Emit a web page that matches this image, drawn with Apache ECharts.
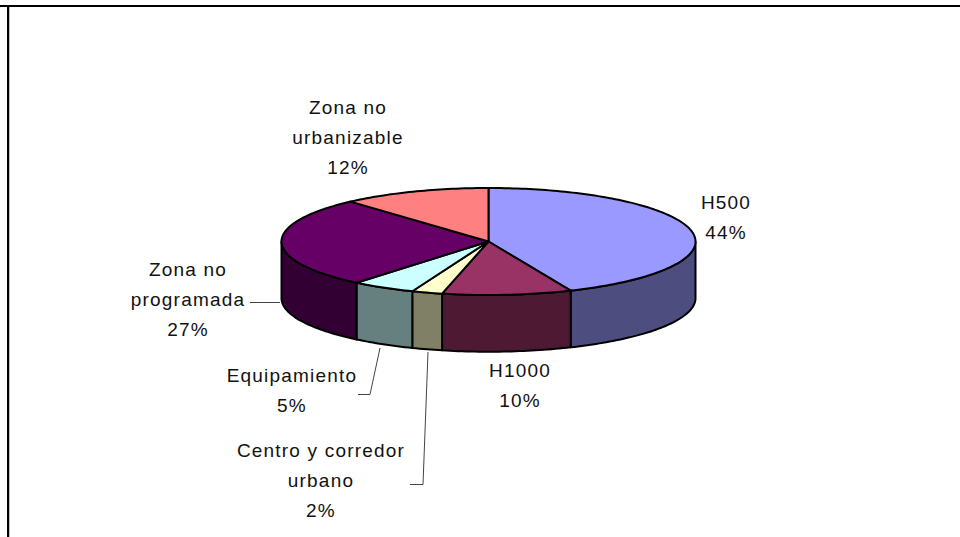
<!DOCTYPE html>
<html>
<head>
<meta charset="utf-8">
<style>
html,body{margin:0;padding:0;background:#fff}
#chart{width:960px;height:537px}
svg text{letter-spacing:1.2px}
</style>
<script src="https://cdn.jsdelivr.net/npm/echarts@6/dist/echarts.min.js"></script>
</head>
<body>
<div id="chart"></div>
<script>
var categories = ['H500','H1000','Centro y corredor\nurbano','Equipamiento','Zona no\nprogramada','Zona no\nurbanizable'];
var values = [43.5,10.1,2.4,5.0,27.4,11.6];
var topColors = ['#9999FF','#993366','#FFFFCC','#CCFFFF','#660066','#FF8080'];
var sideColors = ['#4D4D80','#4D1933','#808066','#668080','#330033','#804040'];
var labelCenters = [[726,202.5],[520,370.5],[321,450.5],[292,375.5],[188,269.5],[348,107.5]];
var leaders = [null,null,[[428,352],[423,484.5],[410,484.5]],[[380,348],[370,394.5],[358,394.5]],[[280,302.5],[250,302.5]],null];

var total = values.reduce(function(a,b){return a+b;},0);
var DEPTH = 1.06, FONT = '19px "Liberation Sans", Arial, sans-serif', LINE = 30;

function renderSlice(params, api){
  var i = params.dataIndex, v = api.value(0), before = 0;
  for (var k=0;k<i;k++) before += values[k];
  var a0 = before/total*Math.PI*2, a1 = (before+v)/total*Math.PI*2;
  function pt(a,drop){ return api.coord([Math.sin(a), Math.cos(a)-(drop||0)]); }
  var children = [];
  var s0 = Math.max(a0,Math.PI/2), s1 = Math.min(a1,Math.PI*1.5);
  if (s1 > s0){
    var side = [], n = Math.ceil((s1-s0)/0.02), j;
    for (j=0;j<=n;j++) side.push(pt(s0+(s1-s0)*j/n,0));
    for (j=n;j>=0;j--) side.push(pt(s0+(s1-s0)*j/n,DEPTH));
    children.push({type:'polygon',shape:{points:side},
      style:{fill:sideColors[i],stroke:'#000',lineWidth:2,lineJoin:'round'}});
  }
  var top = [api.coord([0,0])], m = Math.ceil((a1-a0)/0.02);
  for (var q=0;q<=m;q++) top.push(pt(a0+(a1-a0)*q/m,0));
  children.push({type:'polygon',shape:{points:top},
    style:{fill:topColors[i],stroke:'#000',lineWidth:2,lineJoin:'round'}});
  return {type:'group',children:children};
}

var graphics = [
  {type:'line',shape:{x1:0,y1:6,x2:960,y2:6},style:{stroke:'#000',lineWidth:2}},
  {type:'line',shape:{x1:8,y1:5,x2:8,y2:537},style:{stroke:'#000',lineWidth:2}},
  {type:'line',shape:{x1:9.5,y1:7,x2:9.5,y2:537},style:{stroke:'#c0c0c0',lineWidth:1}}
];
categories.forEach(function(c,i){
  var lines = c.split('\n').concat([Math.round(values[i]/total*100)+'%']);
  lines.forEach(function(t,j){
    graphics.push({type:'text',x:labelCenters[i][0],y:labelCenters[i][1]+j*LINE,z:5,
      style:{text:t,font:FONT,fill:'#111',align:'center',verticalAlign:'middle'}});
  });
  if (leaders[i]) graphics.push({type:'polyline',z:4,shape:{points:leaders[i]},
    style:{fill:null,stroke:'#444',lineWidth:1}});
});

var chart = echarts.init(document.getElementById('chart'),null,{renderer:'svg'});
chart.setOption({
  animation:false,
  backgroundColor:'#fff',
  grid:{left:281.5,top:188,width:414,height:107},
  xAxis:{type:'value',min:-1,max:1,show:false},
  yAxis:{type:'value',min:-1,max:1,show:false},
  graphic:graphics,
  series:[{type:'custom',coordinateSystem:'cartesian2d',clip:false,
    renderItem:renderSlice,
    encode:{x:0,y:0},
    data:values.map(function(v,i){return {name:categories[i],value:[v]};})}]
});
</script>
</body>
</html>
